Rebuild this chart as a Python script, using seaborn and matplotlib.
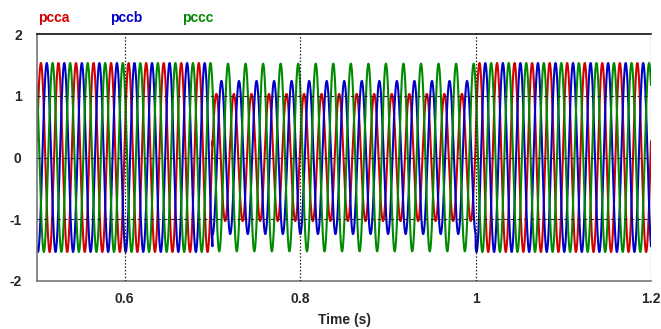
import numpy as np
import pandas as pd
import matplotlib
matplotlib.use("Agg")
import matplotlib.pyplot as plt
import seaborn as sns

# Three-phase PCC voltages (per unit) around an unbalanced sag
signals = ["pcca", "pccb", "pccc"]
colors = ["#d20000", "#0000c8", "#008a00"]
freq_hz = 50.0
# interval boundaries (s): pre-fault, sag, recovery
bounds = [0.5, 0.7, 1.0, 1.2]
# peak amplitude of each phase in each interval
amp_pcca = [1.53, 1.03, 1.53]
amp_pccb = [1.53, 1.24, 1.53]
amp_pccc = [1.53, 1.52, 1.53]
# phase angle (deg) of each phase in each interval
ang_pcca = [10, 10, 10]
ang_pccb = [-110, -95, -110]
ang_pccc = [130, 130, 130]

x_ticks = [0.6, 0.8, 1.0, 1.2]
x_tick_labels = ["0.6", "0.8", "1", "1.2"]
y_ticks = [-2, -1, 0, 1, 2]

t = np.arange(bounds[0], bounds[-1] + 1e-9, 5e-5)
seg = np.clip(np.searchsorted(bounds, t, side="right") - 1, 0, len(bounds) - 2)

frames = []
for name, amps, angs in zip(signals,
                            [amp_pcca, amp_pccb, amp_pccc],
                            [ang_pcca, ang_pccb, ang_pccc]):
    a = np.asarray(amps)[seg]
    ph = np.deg2rad(np.asarray(angs)[seg])
    v = a * np.sin(2 * np.pi * freq_hz * t + ph)
    frames.append(pd.DataFrame({"t": t, "v": v, "signal": name}))
df = pd.concat(frames, ignore_index=True)

sns.set_style("white")
plt.rcParams["font.family"] = ["Liberation Sans", "DejaVu Sans"]
plt.rcParams["font.weight"] = "bold"

fig = plt.figure(figsize=(6.61, 3.29), dpi=100)
ax = fig.add_axes([37 / 661, 1 - 281 / 329, 614 / 661, 247 / 329])

sns.lineplot(data=df, x="t", y="v", hue="signal", palette=dict(zip(signals, colors)),
             estimator=None, sort=False, legend=False, linewidth=1.5, ax=ax)

ax.set_xlim(0.5, 1.2)
ax.set_ylim(-2, 2)
ax.set_xticks(x_ticks)
ax.set_xticklabels(x_tick_labels)
ax.set_yticks(y_ticks)
ax.set_yticklabels([str(v) for v in y_ticks])
ax.tick_params(axis="both", length=0, labelsize=10)
ax.tick_params(axis="y", pad=11)
ax.tick_params(axis="x", pad=8)
for lbl in ax.get_xticklabels() + ax.get_yticklabels():
    lbl.set_fontweight("bold")
ax.set_xlabel("Time (s)", fontsize=10, fontweight="bold", labelpad=5)
ax.set_ylabel("")

# reference lines
for yv in [-1, 0, 1]:
    ax.axhline(yv, color="#222222", lw=0.8, ls=(0, (3, 3)), zorder=5)
for xv in x_ticks:
    ax.axvline(xv, color="#222222", lw=0.9, ls=(0, (1.2, 1.5)), zorder=5)

ax.spines["top"].set_color("#111111")
ax.spines["top"].set_linewidth(1.2)
ax.spines["left"].set_color("#777777")
ax.spines["left"].set_linewidth(1.2)
ax.spines["bottom"].set_color("#777777")
ax.spines["bottom"].set_linewidth(1.2)
ax.spines["right"].set_visible(False)

# signal names above the plot
for name, col, xp in zip(signals, colors, [38, 110, 182]):
    fig.text(xp / 661, 1 - 22 / 329, name, color=col, fontsize=10,
             fontweight="bold", va="baseline", ha="left")

fig.savefig("out.png", dpi=100)
